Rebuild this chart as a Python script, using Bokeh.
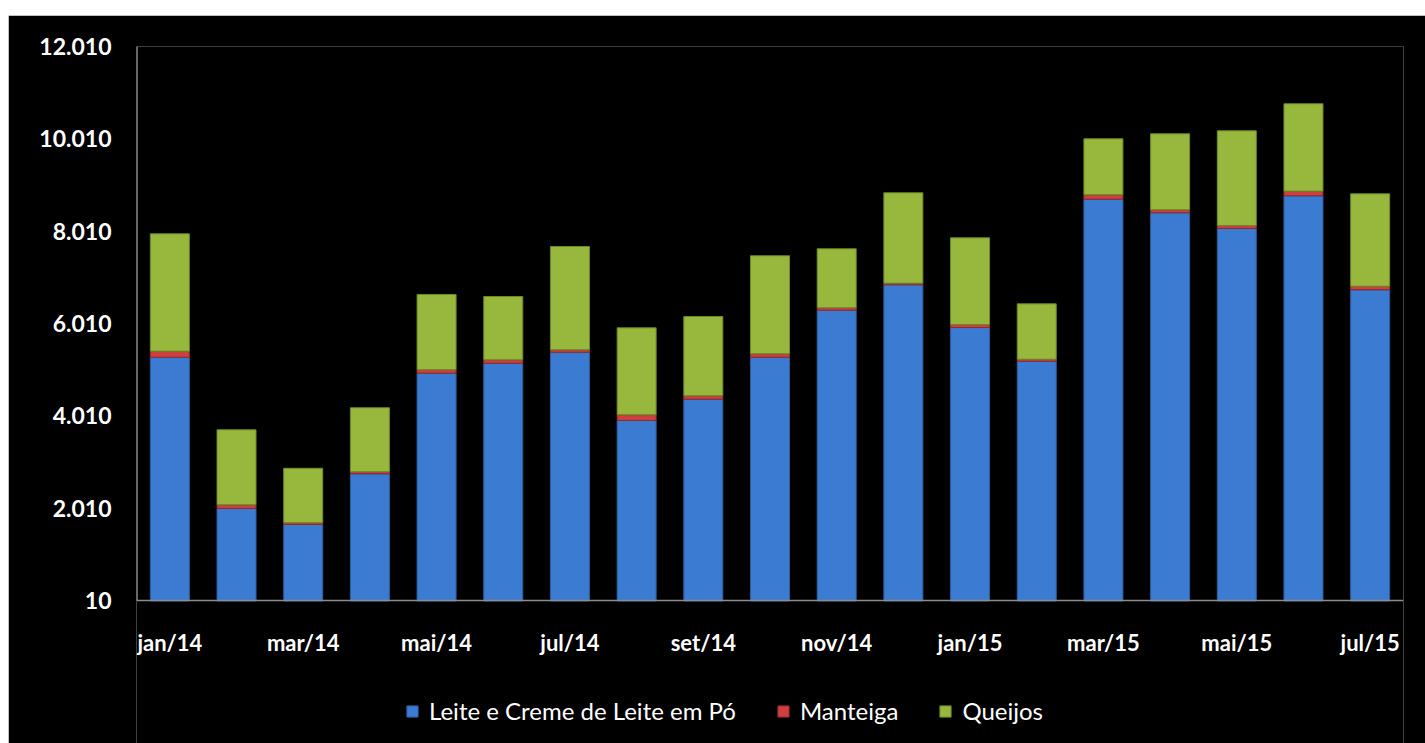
from bokeh.plotting import figure
from bokeh.models import ColumnDataSource, FixedTicker, Legend, LegendItem, Range1d, Spacer, Span
from bokeh.core.properties import value
from bokeh.layouts import column, row
from bokeh.embed import file_html
from bokeh.resources import INLINE

# ---- data ----
months = ["jan/14", "fev/14", "mar/14", "abr/14", "mai/14", "jun/14", "jul/14", "ago/14",
          "set/14", "out/14", "nov/14", "dez/14", "jan/15", "fev/15", "mar/15", "abr/15",
          "mai/15", "jun/15", "jul/15"]
leite = [5280, 2003, 1656, 2754, 4934, 5150, 5388, 3909, 4370, 5280, 6298, 6848, 5923, 5193,
         8703, 8408, 8068, 8776, 6740]
manteiga = [130, 80, 40, 45, 74, 74, 52, 123, 74, 74, 52, 35, 65, 43, 95, 65, 65, 100, 78]
queijos = [2543, 1625, 1178, 1386, 1631, 1371, 2238, 1884, 1718, 2123, 1278, 1958, 1878, 1200,
           1213, 1646, 2051, 1893, 2001]
series_names = ["Leite e Creme de Leite em Pó", "Manteiga", "Queijos"]
y_ticks = [10, 2010, 4010, 6010, 8010, 10010, 12010]
y_tick_labels = ["10", "2.010", "4.010", "6.010", "8.010", "10.010", "12.010"]

colors = ["#3b7bd2", "#cf3f3f", "#97b83d"]
edge = ["#2d5e9e", "#8e2a2a", "#6c8a26"]
font = "Lato"
axis_color = "#8c8c8c"

# layout geometry (pixels): plot area of the bars is 554 px tall, 143 px of room below it
W, H, TOP, LEFT, RIGHT = 1417, 728, 31, 128, 22
bars_px, below_px = 554, H - TOP - 554
y_lo = y_ticks[0] - (y_ticks[-1] - y_ticks[0]) * below_px / bars_px
x_lo, x_hi = -0.5, len(months) - 0.5

x = list(range(len(months)))
source = ColumnDataSource(dict(x=x, leite=leite, manteiga=manteiga, queijos=queijos))

p = figure(width=W, height=H, output_backend="svg", toolbar_location=None,
           x_axis_location=None,
           x_range=Range1d(x_lo, x_hi), y_range=Range1d(y_lo, y_ticks[-1]),
           min_border_left=LEFT, min_border_right=RIGHT, min_border_top=TOP, min_border_bottom=0)
p.background_fill_color = "black"
p.border_fill_color = "black"
p.outline_line_color = None
p.grid.visible = False

renderers = p.vbar_stack(["leite", "manteiga", "queijos"], x="x", width=0.585, source=source,
                         fill_color=colors, line_color=edge, line_width=1)

# y axis: labels from the axis, line drawn only over the value range
p.yaxis.ticker = FixedTicker(ticks=y_ticks)
p.yaxis.major_label_overrides = {t: l for t, l in zip(y_ticks, y_tick_labels)}
p.yaxis.axis_line_color = None
p.yaxis.major_tick_line_color = None
p.yaxis.minor_tick_line_color = None
p.yaxis.major_tick_out = 0
p.yaxis.major_label_text_color = "white"
p.yaxis.major_label_text_font = font
p.yaxis.major_label_text_font_style = "bold"
p.yaxis.major_label_text_font_size = "23px"
p.yaxis.major_label_standoff = 25
p.segment(x0=[x_lo], y0=[y_ticks[0]], x1=[x_lo], y1=[y_ticks[-1]],
          line_color=axis_color, line_width=2.5)

# category axis line and labels (every second month)
p.add_layout(Span(location=y_ticks[0], dimension="width", line_color=axis_color, line_width=1.5))
even_ticks = [i for i in x if i % 2 == 0]
lab_src = ColumnDataSource(dict(x=even_ticks, y=[y_ticks[0]] * len(even_ticks),
                                t=[months[i] for i in even_ticks]))
p.text(x="x", y="y", text="t", source=lab_src, y_offset=28, text_align="center",
       text_baseline="top", text_color="white", text_font=value(font),
       text_font_size="22px", text_font_style="bold")

legend = Legend(items=[LegendItem(label=n, renderers=[r]) for n, r in zip(series_names, renderers)],
                orientation="horizontal", location=(269, 18))
legend.background_fill_alpha = 0
legend.border_line_alpha = 0
legend.label_text_color = "white"
legend.label_text_font = font
legend.label_text_font_size = "24px"
legend.glyph_width = 14
legend.glyph_height = 14
legend.label_standoff = 10
legend.spacing = 40
legend.padding = 0
legend.margin = 0
p.add_layout(legend, "center")

layout = column(Spacer(height=15), row(Spacer(width=8), p, spacing=0), spacing=0)

open("out.html", "w").write(file_html(layout, INLINE))
